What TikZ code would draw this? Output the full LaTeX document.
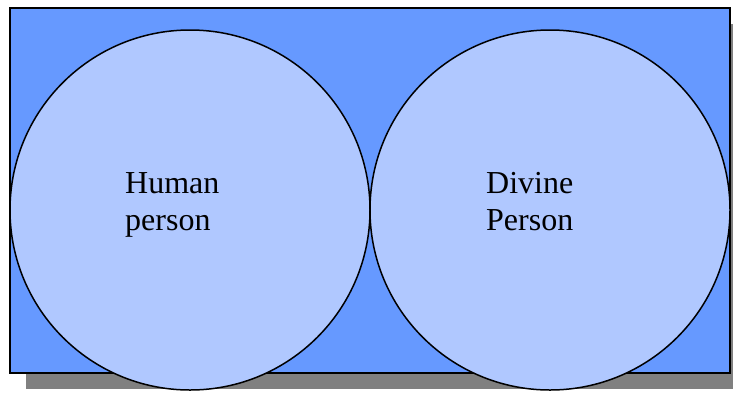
\documentclass[tikz,border=0pt]{standalone}
\usepackage{fontspec}
\setmainfont{Liberation Serif}
\definecolor{rectblue}{HTML}{6699FF}
\definecolor{circblue}{HTML}{B0C8FF}
\definecolor{shadowgray}{HTML}{808080}
\begin{document}
\begin{tikzpicture}[x=1pt,y=-1pt,
  circ/.style={circle,draw=black,line width=1.5pt,fill=circblue,minimum size=360pt,inner sep=0pt},
  lbl/.style={font=\fontsize{32}{37}\selectfont,align=left,anchor=north west,inner sep=0pt}]
\useasboundingbox (0,0) rectangle (733,392);
\fill[shadowgray] (26,24) rectangle (746,389);
\draw[line width=1.5pt,fill=rectblue] (10,8) rectangle (730,373);
\node[circ] (human) at (190,210) {};
\node[circ] (divine) at (550,210) {};
\node[lbl] (hl) at (125,172) {Human\\person};
\node[lbl] (dl) at (486,172) {Divine\\Person};
\end{tikzpicture}
\end{document}
